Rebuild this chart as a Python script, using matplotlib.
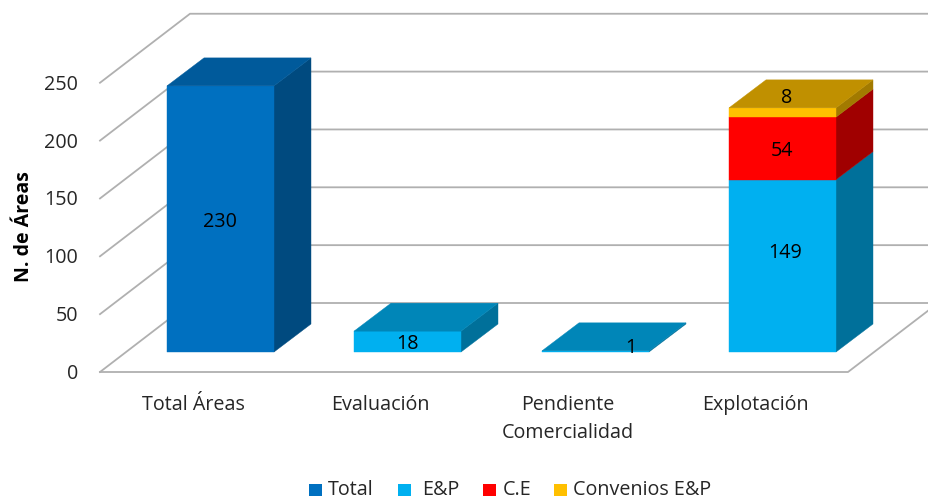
import matplotlib
matplotlib.use("Agg")
import matplotlib.pyplot as plt
from matplotlib.patches import Polygon, Rectangle

plt.rcParams["font.family"] = ["Open Sans", "DejaVu Sans"]

CATEGORIES = ["Total Áreas", "Evaluación", "Pendiente\nComercialidad", "Explotación"]
SERIES = ["Total", "E&P", "C.E", "Convenios E&P"]
TOTAL = [230, 0, 0, 0]
EP = [0, 18, 1, 149]
CE = [0, 0, 0, 54]
CONV = [0, 0, 0, 8]
TICKS = [0, 50, 100, 150, 200, 250]

# front, side, top shades per series
COLORS = {
    "Total": ("#0070c0", "#004a7f", "#005a9b"),
    "E&P": ("#00b0f0", "#00709a", "#0086b8"),
    "C.E": ("#ff0000", "#a00000", "#c00000"),
    "Convenios E&P": ("#ffc000", "#a27a00", "#c09000"),
}
GRID = "#b0b0b0"
TEXT = "#262626"
FS = 14.2

# chart geometry, pixels
PX_PER_UNIT = 1.157
FRONT_Y = 372
WALL_DX, WALL_DY = 90, 69
BAR_BASE = 352
BAR_DX, BAR_DY = 37, 28
BAR_W = 107
BAR_LEFT = [167, 354, 542, 729]
FLOOR_L, FLOOR_R = 100, 848
CAT_X = [193, 380, 568, 755]
LEGEND_SWATCH_X = [309, 398, 483, 554]
LEGEND_TEXT_X = [328, 422, 503, 573]


def val_y(v, base=FRONT_Y):
    return base - v * PX_PER_UNIT


fig = plt.figure(figsize=(9.29, 4.96), dpi=100)
ax = fig.add_axes([0, 0, 1, 1])
ax.set_xlim(0, 929)
ax.set_ylim(496, 0)
ax.axis("off")

# left wall and back wall
for t in TICKS:
    y0 = val_y(t)
    ax.plot([FLOOR_L, FLOOR_L + WALL_DX, 929], [y0, y0 - WALL_DY, y0 - WALL_DY],
            color=GRID, lw=1.3, zorder=1, solid_joinstyle="miter")
    ax.text(78, y0 + 2, str(t), ha="right", va="center", fontsize=FS, color=TEXT)

# floor
ax.plot([FLOOR_L, FLOOR_R, FLOOR_R + 81], [FRONT_Y, FRONT_Y, FRONT_Y - 62],
        color=GRID, lw=1.3, zorder=1)

label_pos = {
    ("Total", 0): (220, 222),
    ("E&P", 1): (407, 344),
    ("E&P", 2): (631, 348),
    ("E&P", 3): (785, 253),
    ("C.E", 3): (782, 151),
    ("Convenios E&P", 3): (787, 98),
}

for i, left in enumerate(BAR_LEFT):
    bottom = 0
    stack = [("Total", TOTAL[i]), ("E&P", EP[i]), ("C.E", CE[i]), ("Convenios E&P", CONV[i])]
    stack = [s for s in stack if s[1] > 0]
    right = left + BAR_W
    for j, (name, v) in enumerate(stack):
        front, side, top = COLORS[name]
        y1 = val_y(bottom, BAR_BASE)
        y2 = val_y(bottom + v, BAR_BASE)
        ax.add_patch(Polygon([(right, y1), (right + BAR_DX, y1 - BAR_DY),
                              (right + BAR_DX, y2 - BAR_DY), (right, y2)],
                             closed=True, fc=side, ec=side, lw=0.3, zorder=3))
        ax.add_patch(Polygon([(left, y1), (right, y1), (right, y2), (left, y2)],
                             closed=True, fc=front, ec=front, lw=0.3, zorder=4))
        if j == len(stack) - 1:
            ax.add_patch(Polygon([(left, y2), (right, y2), (right + BAR_DX, y2 - BAR_DY),
                                  (left + BAR_DX, y2 - BAR_DY)],
                                 closed=True, fc=top, ec=top, lw=0.3, zorder=4))
        lx, ly = label_pos[(name, i)]
        ax.text(lx, ly, str(v), ha="center", va="center", fontsize=FS,
                color="black", zorder=10)
        bottom += v

# category labels
for cx, cat in zip(CAT_X, CATEGORIES):
    for k, line in enumerate(cat.split("\n")):
        ax.text(cx, 405 + k * 28, line, ha="center", va="center", fontsize=FS, color=TEXT)

ax.text(24, 227, "N. de Áreas", rotation=90, ha="center", va="center",
        fontsize=14, fontweight="bold", color="black")

# legend sits right on the bottom edge, like the source image
for name, sx, tx in zip(SERIES, LEGEND_SWATCH_X, LEGEND_TEXT_X):
    ax.add_patch(Rectangle((sx, 483.5), 13, 13, fc=COLORS[name][0], ec="none"))
    ax.text(tx, 495, name, ha="left", va="baseline", fontsize=FS, color=TEXT)

fig.savefig("out.png", dpi=100)
